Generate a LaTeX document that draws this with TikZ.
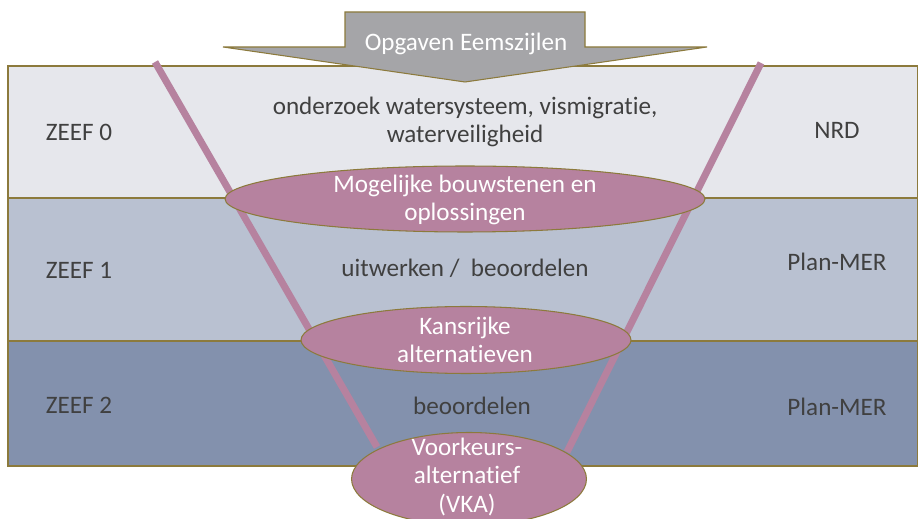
\documentclass[tikz,border=0pt]{standalone}
\usepackage{fontspec}
\setmainfont[Ligatures=NoCommon]{Carlito}
\usepackage{xcolor}
\usetikzlibrary{shapes.geometric,positioning,calc}

\definecolor{zeefA}{HTML}{E6E7EC}
\definecolor{zeefB}{HTML}{B9C1D1}
\definecolor{zeefC}{HTML}{8391AD}
\definecolor{edge}{HTML}{8C7A3C}
\definecolor{funnel}{HTML}{B6829F}
\definecolor{arrowgray}{HTML}{A5A5A8}
\definecolor{txtgray}{HTML}{404040}

% break the t-i ligature
\newcommand{\nolig}{\kern0pt}

\tikzset{
  band/.style={draw=edge, line width=0.6pt},
  funnelline/.style={draw=funnel, line width=4pt},
  pinkell/.style={ellipse, draw=edge, line width=0.6pt, fill=funnel, inner sep=0pt},
  wtxt/.style={text=white, align=center, font=\fontsize{14.3}{16}\selectfont},
  lbl/.style={text=txtgray, align=center, font=\fontsize{14.3}{16}\selectfont}
}

\begin{document}
\begin{tikzpicture}[x=0.02cm, y=-0.02cm]
            \useasboundingbox (0,0) rectangle (918,519);

            % Bands
            \foreach \top/\bot/\col in {66/198/zeefA, 198/341/zeefB, 341/466/zeefC} {
                \draw[band, fill=\col] (8,\top) rectangle (917.5,\bot);
            }

            % Funnel
            \coordinate (fl-top) at (155,62);
            \coordinate (fl-bot) at (377,447);
            \coordinate (fr-top) at (761,63);
            \coordinate (fr-bot) at (567,452);
            \draw[funnelline] (fl-top) -- (fl-bot);
            \draw[funnelline] (fr-top) -- (fr-bot);

            % Stages
            \node[pinkell, minimum width=9.6cm, minimum height=1.32cm] (bouw) at (465,199) {};
            \node[pinkell, minimum width=6.6cm, minimum height=1.34cm] (kans) at (466,340) {};
            \node[pinkell, minimum width=4.7cm, minimum height=1.86cm] (vka) at (469,479) {};
            \node[wtxt] (bouwtxt) at (465,200) {Mogelijke bouwstenen en\\oplossingen};
            \node[wtxt] (kanstxt) at (465,340) {Kansrijke\\alternat\nolig ieven};
            \node[wtxt, font=\fontsize{14.3}{16.2}\selectfont] (vkatxt) at (467,477) {Voorkeurs-\\alternat\nolig ief\\(VKA)};

            % Input arrow
            \draw[draw=edge, line width=0.6pt, fill=arrowgray]
                (345,12) -- (585,12) -- (585,47) -- (707,47) -- (465,82) -- (223,47) -- (345,47) -- cycle;
            \node[wtxt] (opg) at (466,44) {Opgaven Eemszijlen};

            % Labels
            \foreach \i/\y/\res/\ry in {0/132/NRD/130, 1/270/Plan-MER/262, 2/405/Plan-MER/407} {
                \node[lbl] (zeef\i) at (79,\y) {ZEEF \i};
                \node[lbl] (res\i) at (837,\ry) {\res};
            }
            \node[lbl] (task0) at (465,122) {onderzoek watersysteem, vismigrat\nolig ie,\\waterveiligheid};
            \node[lbl] (task1) at (465,268) {uitwerken /\ \ beoordelen};
            \node[lbl] (task2) at (472,406) {beoordelen};
        \end{tikzpicture}
\end{document}
